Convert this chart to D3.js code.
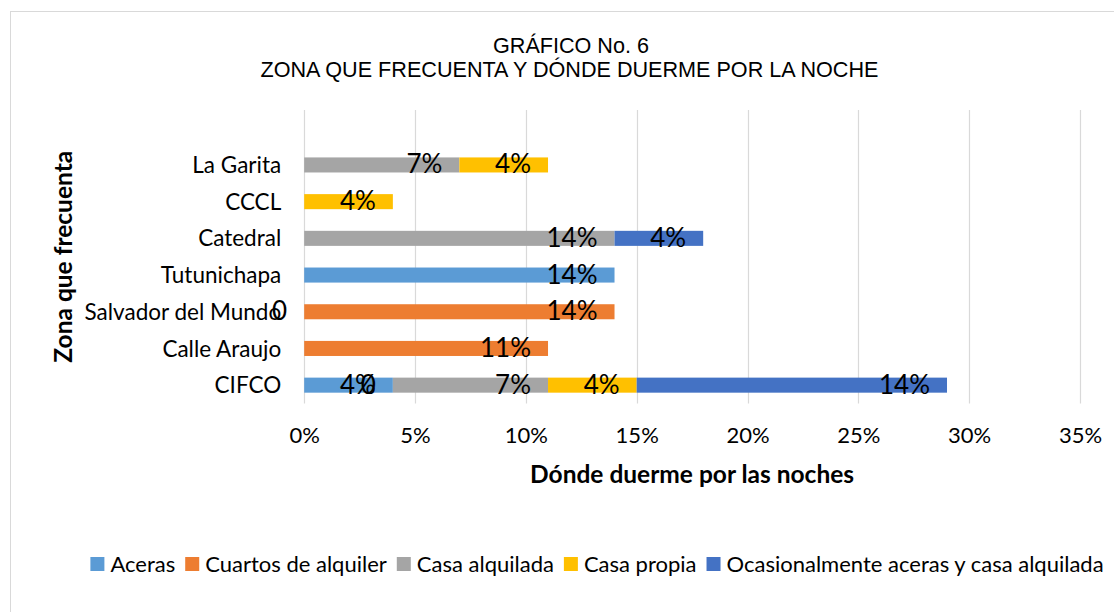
<!DOCTYPE html>
<html>
<head>
<meta charset="utf-8">
<script src="https://cdn.jsdelivr.net/npm/d3@7/dist/d3.min.js"></script>
<style>
  html, body { margin: 0; padding: 0; background: #fff; }
  svg { display: block; }
</style>
</head>
<body>
<svg id="chart" width="1114" height="612"></svg>
<script>
// Zones, listed from the bottom bar to the top bar
const categories = ["CIFCO", "Calle Araujo", "Salvador del Mundo", "Tutunichapa", "Catedral", "CCCL", "La Garita"];

// Where they sleep (percent); null = no data for that zone
const series = ["Aceras", "Cuartos de alquiler", "Casa alquilada", "Casa propia", "Ocasionalmente aceras y casa alquilada"];
const aceras          = [4,    null, 0,    14,   null, null, null];
const cuartosAlquiler = [0,    11,   14,   null, null, null, null];
const casaAlquilada   = [7,    null, null, null, 14,   null, 7];
const casaPropia      = [4,    null, null, null, null, 4,    4];
const ocasionalmente  = [14,   null, null, null, 4,    null, null];

const xTicks = [0, 5, 10, 15, 20, 25, 30, 35];
const colors = ["#5b9bd5", "#ed7d31", "#a5a5a5", "#ffc000", "#4472c4"];

const titleLines = ["GRÁFICO No. 6", "ZONA QUE FRECUENTA Y DÓNDE DUERME POR LA NOCHE"];
const xTitle = "Dónde duerme por las noches";
const yTitle = "Zona que frecuenta";

const values = [aceras, cuartosAlquiler, casaAlquilada, casaPropia, ocasionalmente];
const rows = categories.map((c, i) => {
  const r = { zona: c };
  series.forEach((s, k) => { r[s] = values[k][i] == null ? 0 : values[k][i]; });
  return r;
});
const stacked = d3.stack().keys(series)(rows);

const svg = d3.select("#chart");
const font = "Lato, 'Open Sans', sans-serif";

// chart frame
svg.append("rect").attr("x", 10.5).attr("y", 11.5).attr("width", 1300).attr("height", 800)
  .attr("fill", "#fff").attr("stroke", "#d9d9d9").attr("stroke-width", 1);

// plot area
const plot = { left: 304.2, right: 1080, top: 110, bottom: 403.5 };
const band = 36.7;
const x = d3.scaleLinear().domain([0, 35]).range([plot.left, plot.right]);
const y = d3.scaleBand().domain(categories)
  .range([plot.bottom, plot.bottom - band * categories.length])
  .paddingInner(0.59).paddingOuter(0.295);

// title
const title = svg.append("g").attr("font-family", "'Liberation Sans', Arial, sans-serif")
  .attr("font-size", 21.6).attr("fill", "#000").attr("text-anchor", "middle");
title.append("text").attr("x", 571).attr("y", 52.5).text(titleLines[0]);
title.append("text").attr("x", 569.5).attr("y", 77).text(titleLines[1]);

// vertical gridlines
svg.append("g").selectAll("line").data(xTicks).join("line")
  .attr("x1", d => Math.round(x(d)) + 0.5).attr("x2", d => Math.round(x(d)) + 0.5)
  .attr("y1", plot.top).attr("y2", plot.bottom)
  .attr("stroke", "#d9d9d9").attr("stroke-width", 1.2);

// x axis labels
const xAxis = d3.axisBottom(x).tickValues(xTicks).tickSize(0).tickPadding(0)
  .tickFormat(d => d + "%");
const gx = svg.append("g").attr("transform", `translate(0,${plot.bottom + 24})`).call(xAxis);
gx.select(".domain").remove();
gx.selectAll("text").attr("font-family", font).attr("font-size", 22).attr("fill", "#000")
  .attr("dy", "0.71em").attr("y", 0);

// y axis labels
const yAxis = d3.axisLeft(y).tickSize(0).tickPadding(0);
const gy = svg.append("g").attr("transform", `translate(${plot.left - 23},0)`).call(yAxis);
gy.select(".domain").remove();
gy.selectAll("text").attr("font-family", font).attr("font-size", 22.5).attr("fill", "#000")
  .attr("dy", "0.36em");

// stacked bars
svg.append("g").selectAll("g").data(stacked).join("g")
  .attr("fill", (d, i) => colors[i])
  .selectAll("rect").data(d => d.filter(p => p[1] > p[0])).join("rect")
  .attr("x", d => x(d[0]))
  .attr("y", d => y(d.data.zona))
  .attr("width", d => x(d[1]) - x(d[0]))
  .attr("height", y.bandwidth());

// data labels, placed inside the end of each segment
const labels = [];
stacked.forEach((s, k) => {
  s.forEach((p, i) => {
    const v = values[k][i];
    if (v != null) labels.push({ v: v, end: p[1], zona: p.data.zona });
  });
});
svg.append("g").selectAll("text").data(labels).join("text")
  .attr("x", d => x(d.end) - 17)
  .attr("y", d => y(d.zona) + y.bandwidth() / 2 + 8.5)
  .attr("text-anchor", "end")
  .attr("font-family", font).attr("font-size", 26).attr("fill", "#000")
  .text(d => d.v === 0 ? "0" : d.v + "%");

// axis titles
svg.append("text").attr("x", (plot.left + plot.right) / 2).attr("y", 483)
  .attr("text-anchor", "middle").attr("font-family", font).attr("font-weight", "bold")
  .attr("font-size", 24.5).attr("fill", "#000").text(xTitle);
svg.append("text").attr("transform", `translate(72,${(plot.top + plot.bottom) / 2}) rotate(-90)`)
  .attr("text-anchor", "middle").attr("font-family", font).attr("font-weight", "bold")
  .attr("font-size", 24.5).attr("fill", "#000").text(yTitle);

// legend
const legend = svg.append("g").attr("font-family", font).attr("font-size", 22);
const items = legend.selectAll("g").data(series).join("g");
items.append("rect").attr("width", 14).attr("height", 14).attr("y", -7)
  .attr("fill", (d, i) => colors[i]);
items.append("text").attr("x", 20).attr("dy", "0.36em").attr("fill", "#000").text(d => d);
let cx = 0;
items.each(function () {
  d3.select(this).attr("transform", `translate(${cx},564)`);
  cx += this.getBBox().width + 10;
});
const total = cx - 10;
legend.attr("transform", `translate(${597 - total / 2},0)`);
</script>
</body>
</html>
